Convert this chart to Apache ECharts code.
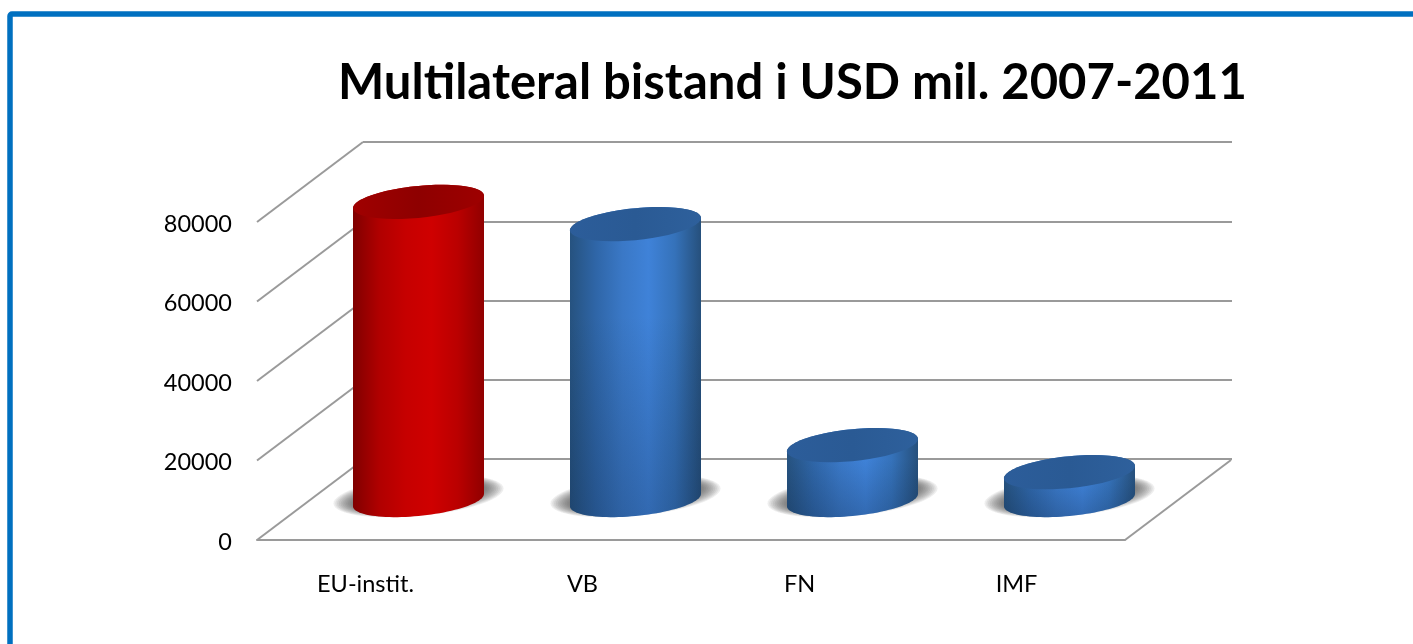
<!DOCTYPE html>
<html>
<head>
<meta charset="utf-8">
<style>
  html, body { margin: 0; padding: 0; background: #fff; }
  #chart { width: 1413px; height: 644px; }
</style>
<script src="https://cdn.jsdelivr.net/npm/echarts@6/dist/echarts.min.js"></script>
</head>
<body>
<div id="chart"></div>
<script>
// data
var categories = ["EU-instit.", "VB", "FN", "IMF"];
var values = [75000, 69400, 13800, 7000];
var yTicks = [0, 20000, 40000, 60000, 80000];

// fake 3d: the back wall sits this far from the front plane
var depthX = 106;
var depthY = -80;
var cylHalfW = 65.5;
var cylB = 16;
var cylSkew = 6.2;

var redLook = {
  side: ["#800000", "#b00000", "#c60000", "#cf0000", "#ba0000", "#900000"],
  top: ["#a00000", "#8e0000", "#9e0000"],
  shade: "rgba(0,0,0,0)"
};
var blueLook = {
  side: ["#26527f", "#2f66a8", "#3a78c6", "#3f82d8", "#3572ba", "#26507c"],
  top: ["#2c5d9a", "#2a5a94", "#2e609c"],
  shade: "rgba(10,30,60,0.25)"
};
var looks = [redLook, blueLook, blueLook, blueLook];

function hGradient(colors) {
  var stops = colors.map(function (c, i) {
    return { offset: i / (colors.length - 1), color: c };
  });
  return new echarts.graphic.LinearGradient(0, 0, 1, 0, stops);
}

// point on the tilted ellipse of a cylinder cap
function capPoint(cx, cy, a, t) {
  return [cx + a * Math.cos(t), cy + cylB * Math.sin(t) - cylSkew * Math.cos(t)];
}

function capArc(cx, cy, from, to) {
  var pts = [];
  for (var i = 0; i <= 48; i++) {
    pts.push(capPoint(cx, cy, cylHalfW, from + (to - from) * i / 48));
  }
  return pts;
}

// soft floor shadow, stacked thin ellipses so it fades out
function shadowLayers(cx, by) {
  var layers = [];
  for (var k = 0; k < 12; k++) {
    var a = 85 - k * 1.8;
    var b = 20 - k * 0.7;
    var pts = [];
    for (var i = 0; i < 60; i++) {
      var t = i / 60 * Math.PI * 2;
      pts.push([cx + a * Math.cos(t), by - 4 + b * Math.sin(t) - 7.5 * Math.cos(t)]);
    }
    layers.push({
      type: "polygon",
      shape: { points: pts },
      style: { fill: "rgba(70,70,70,0.095)" }
    });
  }
  return layers;
}

function renderWalls(params, api) {
  var grid = params.coordSys;
  var y = api.coord([0, api.value(1)])[1];
  var lineStyle = { stroke: "#9a9a9a", lineWidth: 2, fill: null };
  var children = [{
    type: "line",
    shape: { x1: grid.x, y1: y, x2: grid.x + depthX, y2: y + depthY },
    style: lineStyle
  }];
  if (params.dataIndex === 0) {
    var right = grid.x + grid.width;
    children.push({
      type: "line",
      shape: { x1: right, y1: y, x2: right + depthX, y2: y + depthY },
      style: lineStyle
    });
  }
  return { type: "group", children: children };
}

function renderCylinder(params, api) {
  var look = looks[params.dataIndex];
  var base = api.coord([api.value(0), 0]);
  var head = api.coord([api.value(0), api.value(1)]);
  var cx = base[0] + depthX / 2;
  var by = base[1] + depthY / 2;
  var ty = head[1] + depthY / 2;

  var body = capArc(cx, by, 0, Math.PI).concat(capArc(cx, ty, Math.PI, Math.PI * 2));
  var cap = capArc(cx, ty, 0, Math.PI * 2);

  return {
    type: "group",
    children: shadowLayers(cx, by).concat([
      { type: "polygon", shape: { points: body }, style: { fill: hGradient(look.side) } },
      {
        type: "polygon",
        shape: { points: body },
        style: {
          fill: new echarts.graphic.LinearGradient(0, 0, 0, 1, [
            { offset: 0, color: "rgba(10,30,60,0)" },
            { offset: 0.35, color: "rgba(10,30,60,0)" },
            { offset: 1, color: look.shade }
          ])
        }
      },
      { type: "polygon", shape: { points: cap }, style: { fill: hGradient(look.top) } }
    ])
  };
}

var labelFont = "Lato, Carlito, sans-serif";

var option = {
  animation: false,
  backgroundColor: "#fff",
  title: {
    text: "Multilateral bistand i USD mil. 2007-2011",
    left: 333,
    top: 54,
    textStyle: { fontFamily: labelFont, fontWeight: "bold", fontSize: 49, color: "#000" }
  },
  graphic: [{
    type: "rect",
    shape: { x: 10, y: 14, width: 1500, height: 800, r: 2 },
    style: { fill: null, stroke: "#0070c0", lineWidth: 5.5 },
    silent: true
  }],
  grid: [
    { left: 257, top: 222, width: 868, height: 318 },
    { left: 363, top: 142, width: 869, height: 317 }
  ],
  xAxis: [
    {
      type: "category",
      gridIndex: 0,
      data: categories,
      axisTick: { show: false },
      axisLine: { show: true, lineStyle: { color: "#9a9a9a", width: 2 } },
      axisLabel: { fontFamily: labelFont, fontSize: 23.5, color: "#000", margin: 32 }
    },
    {
      type: "category",
      gridIndex: 1,
      data: categories,
      axisTick: { show: false },
      axisLabel: { show: false },
      axisLine: { show: false }
    }
  ],
  yAxis: [
    {
      type: "value",
      gridIndex: 0,
      min: 0,
      max: 80000,
      interval: 20000,
      axisLine: { show: false },
      axisTick: { show: false },
      splitLine: { show: false },
      axisLabel: {
        fontFamily: labelFont,
        fontSize: 23.5,
        color: "#000",
        margin: 25,
        verticalAlign: "top",
        lineHeight: 4,
        formatter: function (v) { return String(v); }
      }
    },
    {
      type: "value",
      gridIndex: 1,
      min: 0,
      max: 80000,
      interval: 20000,
      axisLine: { show: false },
      axisTick: { show: false },
      axisLabel: { show: false },
      splitLine: { show: true, lineStyle: { color: "#9a9a9a", width: 2 } }
    }
  ],
  series: [
    {
      name: "walls",
      type: "custom",
      xAxisIndex: 0,
      yAxisIndex: 0,
      z: 1,
      silent: true,
      renderItem: renderWalls,
      data: yTicks.map(function (v) { return [0, v]; })
    },
    {
      name: "Multilateral bistand",
      type: "custom",
      xAxisIndex: 0,
      yAxisIndex: 0,
      z: 3,
      renderItem: renderCylinder,
      encode: { x: 0, y: 1 },
      data: values.map(function (v, i) { return [i, v]; })
    }
  ]
};

var myChart = echarts.init(document.getElementById("chart"), null, { renderer: "canvas" });
myChart.setOption(option);
</script>
</body>
</html>
